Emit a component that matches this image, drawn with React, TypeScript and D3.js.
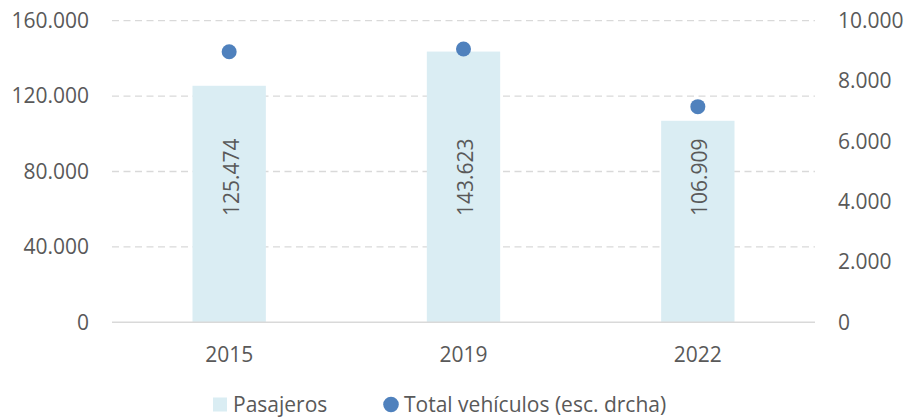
import React from "react";
import * as d3 from "d3";

const categories = ["2015", "2019", "2022"];
const pasajeros = [125474, 143623, 106909];
const vehiculos = [8970, 9060, 7150];
const leftTicks = [0, 40000, 80000, 120000, 160000];
const rightTicks = [0, 2000, 4000, 6000, 8000, 10000];
const seriesNames = ["Pasajeros", "Total vehículos (esc. drcha)"];

const W = 908;
const H = 419;
const M = { left: 112, right: 815, top: 20.7, bottom: 322.3 };
const FONT = "'Open Sans', 'Liberation Sans', sans-serif";
const TXT = "#595959";
const GRID = "#d9d9d9";
const BAR = "#daedf3";
const DOT = "#4f81bd";

const fmt = (v: number) =>
  v === 0 ? "0" : d3.format(",")(v).replace(/,/g, ".");

export default function App() {
  const x = d3.scaleBand<string>().domain(categories).range([M.left, M.right]).padding(0);
  const yL = d3.scaleLinear().domain([0, 160000]).range([M.bottom, M.top]);
  const yR = d3.scaleLinear().domain([0, 10000]).range([M.bottom, M.top]);
  const bw = x.bandwidth() * 0.313;
  const labelAnchor = yL(77000);

  return (
    <svg
      width={W}
      height={H}
      style={{ position: "absolute", left: 0, top: 0, background: "#fff" }}
      fontFamily={FONT}
    >
      {leftTicks.filter((t) => t !== 0).map((t) => (
        <line
          key={"g" + t}
          x1={M.left}
          x2={M.right}
          y1={yL(t)}
          y2={yL(t)}
          stroke={GRID}
          strokeWidth={1.3}
          strokeDasharray="7,4.5"
        />
      ))}
      {categories.map((c, i) => {
        const cx = (x(c) as number) + x.bandwidth() / 2;
        return (
          <rect
            key={"b" + c}
            x={cx - bw / 2}
            y={yL(pasajeros[i])}
            width={bw}
            height={yL(0) - yL(pasajeros[i])}
            fill={BAR}
          />
        );
      })}
      <line x1={M.left} x2={M.right} y1={yL(0)} y2={yL(0)} stroke={GRID} strokeWidth={1.5} />
      {categories.map((c, i) => {
        const cx = (x(c) as number) + x.bandwidth() / 2;
        return (
          <text
            key={"l" + c}
            transform={`translate(${cx + 2},${labelAnchor}) rotate(-90)`}
            textAnchor="middle"
            dy="0.35em"
            fontSize={21}
            fill={TXT}
          >
            {fmt(pasajeros[i])}
          </text>
        );
      })}
      {categories.map((c, i) => {
        const cx = (x(c) as number) + x.bandwidth() / 2;
        return <circle key={"d" + c} cx={cx} cy={yR(vehiculos[i])} r={7.5} fill={DOT} />;
      })}
      {leftTicks.map((t) => (
        <text key={"yl" + t} x={89} y={yL(t)} dy="0.35em" textAnchor="end" fontSize={21} fill={TXT}>
          {fmt(t)}
        </text>
      ))}
      {rightTicks.map((t) => (
        <text key={"yr" + t} x={838} y={yR(t)} dy="0.35em" textAnchor="start" fontSize={21} fill={TXT}>
          {fmt(t)}
        </text>
      ))}
      {categories.map((c) => (
        <text
          key={"x" + c}
          x={(x(c) as number) + x.bandwidth() / 2}
          y={362}
          textAnchor="middle"
          fontSize={21}
          fill={TXT}
        >
          {c}
        </text>
      ))}
      <rect x={213} y={397.5} width={14} height={14} fill={BAR} />
      <text x={233} y={411.5} fontSize={21} fill={TXT}>
        {seriesNames[0]}
      </text>
      <circle cx={391} cy={404.5} r={7.8} fill={DOT} />
      <text x={404} y={411.5} fontSize={21} fill={TXT}>
        {seriesNames[1]}
      </text>
    </svg>
  );
}
